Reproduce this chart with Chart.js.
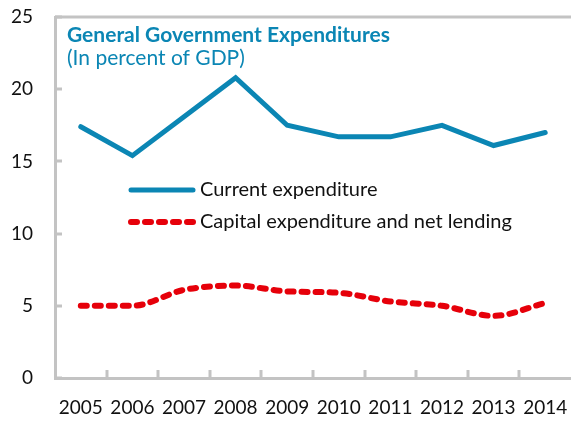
<!DOCTYPE html>
<html>
<head>
<meta charset="utf-8">
<script src="https://cdn.jsdelivr.net/npm/chart.js@4.4.1/dist/chart.umd.min.js"></script>
<style>
  html, body { margin: 0; padding: 0; background: #fff; }
  #wrap { position: relative; width: 571px; height: 423px; }
</style>
</head>
<body>
<div id="wrap"><canvas id="grafico" width="571" height="423"></canvas></div>
<script>
// Datos del gráfico
const anios = ['2005', '2006', '2007', '2008', '2009', '2010', '2011', '2012', '2013', '2014'];
const gastoCorriente = [17.4, 15.4, 18.1, 20.8, 17.5, 16.7, 16.7, 17.5, 16.1, 17.0];
const gastoCapital = [5.0, 5.0, 6.1, 6.4, 6.0, 5.9, 5.3, 5.0, 4.3, 5.2];
const etiquetas = ['Current expenditure', 'Capital expenditure and net lending'];
const titulo = 'General Government Expenditures';
const subtitulo = '(In percent of GDP)';

const AZUL = '#0b86b4';
const ROJO = '#e6000a';
const GRIS = '#c3c3c3';
const FUENTE = 'Lato, "Open Sans", sans-serif';

// Marco superior, marcas hacia adentro, título y leyenda dentro del área
const decoraciones = {
    id: 'decoraciones',
    afterDraw(chart) {
        const { ctx, chartArea, scales } = chart;
        const x = scales.x, y = scales.y;
        ctx.save();
        ctx.strokeStyle = GRIS;
        ctx.lineWidth = 3;

        // línea superior
        ctx.beginPath();
        ctx.moveTo(chartArea.left, chartArea.top);
        ctx.lineTo(chart.width, chartArea.top);
        ctx.stroke();

        // marcas del eje y
        y.ticks.forEach(t => {
            const py = Math.round(y.getPixelForValue(t.value));
            ctx.beginPath();
            ctx.moveTo(chartArea.left, py);
            ctx.lineTo(chartArea.left + 7, py);
            ctx.stroke();
        });

        // marcas del eje x entre categorías
        for (let i = 1; i < anios.length; i++) {
            const px = Math.round((x.getPixelForTick(i - 1) + x.getPixelForTick(i)) / 2);
            ctx.beginPath();
            ctx.moveTo(px, chartArea.bottom);
            ctx.lineTo(px, chartArea.bottom - 8);
            ctx.stroke();
        }

        // título
        ctx.fillStyle = AZUL;
        ctx.textBaseline = 'alphabetic';
        ctx.font = 'bold 21px ' + FUENTE;
        ctx.fillText(titulo, 67, 42);
        ctx.font = '21px ' + FUENTE;
        ctx.fillText(subtitulo, 67, 65);

        // leyenda
        chart.data.datasets.forEach((ds, i) => {
            const ly = 190 + i * 32;
            ctx.strokeStyle = ds.borderColor;
            ctx.lineWidth = ds.borderWidth;
            ctx.lineCap = ds.borderCapStyle || 'butt';
            ctx.setLineDash(ds.borderDash || []);
            ctx.beginPath();
            ctx.moveTo(131, ly);
            ctx.lineTo(193, ly);
            ctx.stroke();
            ctx.setLineDash([]);
            ctx.fillStyle = '#111';
            ctx.font = '20px ' + FUENTE;
            ctx.textBaseline = 'middle';
            ctx.fillText(ds.label, 200, ly);
        });
        ctx.restore();
    }
};

new Chart(document.getElementById('grafico'), {
    type: 'line',
    data: {
        labels: anios,
        datasets: [{
            label: etiquetas[0],
            data: gastoCorriente,
            borderColor: AZUL,
            borderWidth: 5,
            borderCapStyle: 'round',
            borderJoinStyle: 'miter',
            tension: 0,
            pointRadius: 0
        }, {
            label: etiquetas[1],
            data: gastoCapital,
            borderColor: ROJO,
            borderWidth: 6,
            borderCapStyle: 'round',
            borderDash: [6, 8],
            cubicInterpolationMode: 'monotone',
            pointRadius: 0
        }]
    },
    options: {
        responsive: false,
        animation: false,
        layout: { padding: { top: 17, right: 0, left: 0, bottom: 0 } },
        plugins: { legend: { display: false }, tooltip: { enabled: false } },
        scales: {
            x: {
                offset: true,
                grid: { display: false, drawTicks: false },
                border: { display: true, color: GRIS, width: 3 },
                ticks: { color: '#111', font: { family: FUENTE, size: 19 }, padding: 18, maxRotation: 0, autoSkip: false },
                afterFit: s => { s.height = 45; s.paddingLeft = 0; s.paddingRight = 0; }
            },
            y: {
                min: 0,
                max: 25,
                grid: { display: false, drawTicks: false },
                border: { display: true, color: GRIS, width: 3 },
                ticks: { stepSize: 5, color: '#111', font: { family: FUENTE, size: 19 }, padding: 22 },
                afterFit: s => { s.width = 55; s.paddingTop = 0; s.paddingBottom = 0; }
            }
        }
    },
    plugins: [decoraciones]
});
</script>
</body>
</html>
